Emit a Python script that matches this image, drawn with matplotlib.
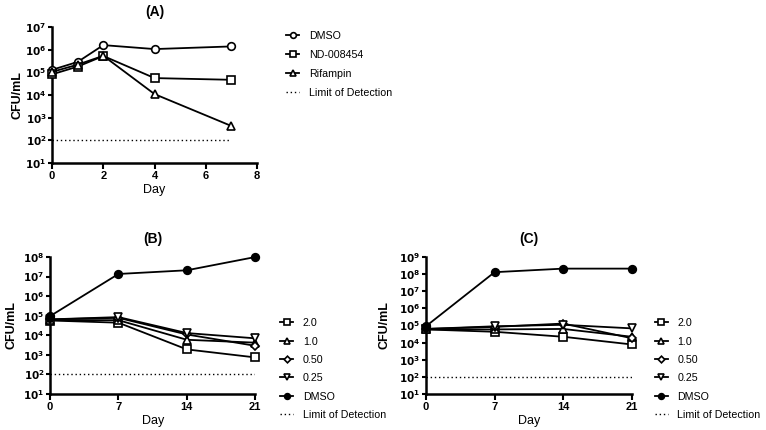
import math
import matplotlib
matplotlib.use("Agg")
import matplotlib.pyplot as plt
from matplotlib.ticker import FixedLocator, LogLocator, FuncFormatter, NullFormatter

plt.rcParams['font.family'] = ['Liberation Sans', 'DejaVu Sans']

# Panel A data
days_a = [0, 1, 2, 4, 7]
a_dmso = [1.3e5, 2.9e5, 1.6e6, 1.07e6, 1.4e6]
a_nd = [8.2e4, 1.8e5, 5.3e5, 5.6e4, 4.7e4]
a_rif = [1.05e5, 2.2e5, 5.4e5, 1.1e4, 4.3e2]
a_labels = ['DMSO', 'ND-008454', 'Rifampin']

# Panel B data
days_bc = [0, 7, 14, 21]
b_20 = [5.7e4, 4.4e4, 1.9e3, 7.4e2]
b_10 = [6.0e4, 5.9e4, 5.9e3, 4.2e3]
b_050 = [6.5e4, 7.8e4, 1.1e4, 2.9e3]
b_025 = [6.5e4, 8.5e4, 1.3e4, 7.0e3]
b_dmso = [9.5e4, 1.36e7, 2.1e7, 1.0e8]

# Panel C data
c_20 = [5.9e4, 4.3e4, 2.2e4, 7.8e3]
c_10 = [6.0e4, 5.9e4, 6.3e4, 2.2e4]
c_050 = [6.3e4, 8.3e4, 1.3e5, 1.8e4]
c_025 = [6.3e4, 9.0e4, 1.1e5, 6.8e4]
c_dmso = [9.0e4, 1.3e8, 2.1e8, 2.1e8]
bc_labels = ['2.0', '1.0', '0.50', '0.25', 'DMSO']

lod = 1e2
lod_label = 'Limit of Detection'

fig = plt.figure(figsize=(7.66, 4.30), dpi=100)

def style_ax(ax, xticks, xlim, ymax_exp, ylab_x):
    ax.set_yscale('log')
    ax.set_ylim(10, 10 ** ymax_exp)
    ax.set_xlim(*xlim)
    ax.set_xticks(xticks)
    ax.set_xticklabels([str(t) for t in xticks], fontweight='bold', fontsize=8)
    ax.yaxis.set_major_locator(FixedLocator([10 ** k for k in range(1, ymax_exp + 1)]))
    ax.yaxis.set_major_formatter(FuncFormatter(lambda v, p: r'$\mathbf{10^{%d}}$' % round(math.log10(v))))
    ax.yaxis.set_minor_locator(LogLocator(base=10, subs=range(2, 10)))
    ax.yaxis.set_minor_formatter(NullFormatter())
    ax.tick_params(axis='y', labelsize=7.5, width=1.5, length=3, pad=1)
    ax.tick_params(axis='y', which='minor', width=1.0, length=2)
    ax.tick_params(axis='x', width=1.5, length=4, pad=2)
    for s in ['top', 'right']:
        ax.spines[s].set_visible(False)
    for s in ['left', 'bottom']:
        ax.spines[s].set_linewidth(1.8)
    ax.set_ylabel('CFU/mL', fontweight='bold', fontsize=9)
    ax.yaxis.set_label_coords(ylab_x, 0.5)
    ax.set_xlabel('Day', fontsize=9, labelpad=2)

kw = dict(color='black', lw=1.3, markersize=5.5, markerfacecolor='white',
          markeredgecolor='black', markeredgewidth=1.2, clip_on=False, zorder=3)

leg_kw = dict(frameon=False, fontsize=7.7, handlelength=1.2, handletextpad=0.9,
              markerscale=0.75, borderaxespad=0, borderpad=0)

# Panel A
axA = fig.add_axes([0.068, 0.621, 0.2675, 0.316])
axA.plot(days_a, a_dmso, marker='o', label=a_labels[0], **kw)
axA.plot(days_a, a_nd, marker='s', label=a_labels[1], **kw)
axA.plot(days_a, a_rif, marker='^', label=a_labels[2], **kw)
axA.plot([0, 7], [lod, lod], ls=(0, (1, 2)), color='black', lw=1.0, label=lod_label)
style_ax(axA, [0, 2, 4, 6, 8], (0, 8), 7, -0.14)
axA.set_title('(A)', fontweight='bold', fontsize=10, pad=8)
axA.legend(loc='upper left', bbox_to_anchor=(0.374, 0.928), bbox_transform=fig.transFigure,
           labelspacing=0.85, **leg_kw)

def plot_bc(ax, s20, s10, s050, s025, sd):
    ax.plot(days_bc, s20, marker='s', label=bc_labels[0], **kw)
    ax.plot(days_bc, s10, marker='^', label=bc_labels[1], **kw)
    ax.plot(days_bc, s050, marker='D', label=bc_labels[2], **dict(kw, markersize=4.5))
    ax.plot(days_bc, s025, marker='v', label=bc_labels[3], **kw)
    ax.plot(days_bc, sd, marker='o', label=bc_labels[4], **dict(kw, markerfacecolor='black'))
    ax.plot([0, 21], [lod, lod], ls=(0, (1, 2)), color='black', lw=1.0, label=lod_label)

axB = fig.add_axes([0.0653, 0.0837, 0.268, 0.3186])
plot_bc(axB, b_20, b_10, b_050, b_025, b_dmso)
style_ax(axB, [0, 7, 14, 21], (0, 21), 8, -0.16)
axB.set_title('(B)', fontweight='bold', fontsize=10, pad=10)
axB.legend(loc='upper left', bbox_to_anchor=(0.366, 0.26), bbox_transform=fig.transFigure,
           labelspacing=0.78, **leg_kw)

axC = fig.add_axes([0.556, 0.0837, 0.269, 0.3186])
plot_bc(axC, c_20, c_10, c_050, c_025, c_dmso)
style_ax(axC, [0, 7, 14, 21], (0, 21), 9, -0.17)
axC.set_title('(C)', fontweight='bold', fontsize=10, pad=10)
axC.legend(loc='upper left', bbox_to_anchor=(0.855, 0.26), bbox_transform=fig.transFigure,
           labelspacing=0.78, **leg_kw)

fig.savefig('out.png', dpi=100)
